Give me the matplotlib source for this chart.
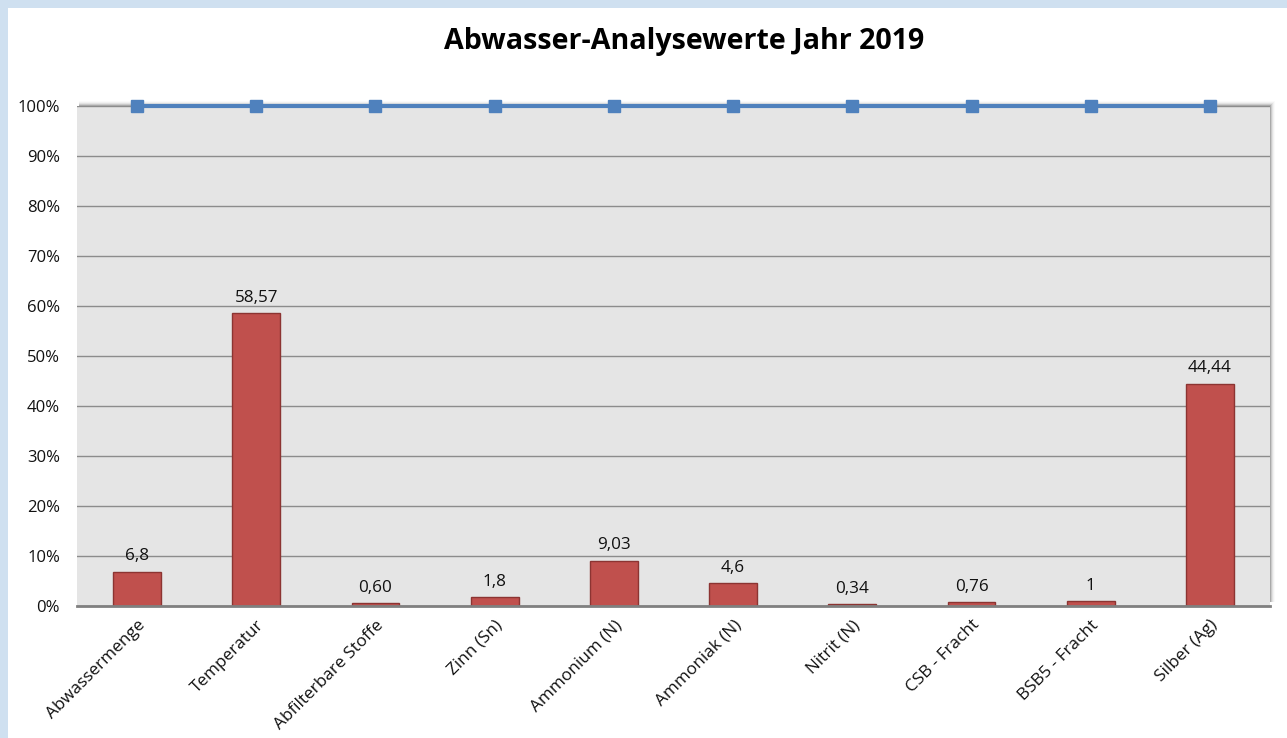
import matplotlib
matplotlib.use("Agg")
import matplotlib.pyplot as plt
from matplotlib.patches import Rectangle
from matplotlib.ticker import FuncFormatter

categories = ["Abwassermenge", "Temperatur", "Abfilterbare Stoffe", "Zinn (Sn)",
              "Ammonium (N)", "Ammoniak (N)", "Nitrit (N)", "CSB - Fracht",
              "BSB5 - Fracht", "Silber (Ag)"]
bar_values = [6.8, 58.57, 0.60, 1.8, 9.03, 4.6, 0.34, 0.76, 1.0, 44.44]
bar_labels = ["6,8", "58,57", "0,60", "1,8", "9,03", "4,6", "0,34", "0,76", "1", "44,44"]
line_values = [100] * 10
yticks = [0, 10, 20, 30, 40, 50, 60, 70, 80, 90, 100]

plt.rcParams['font.family'] = ['Open Sans', 'DejaVu Sans']

W, H = 1287, 738
fig = plt.figure(figsize=(W / 100, H / 100), dpi=100)
fig.patch.set_facecolor('white')

# light blue frame (top and left)
fig.patches.append(Rectangle((0, 1 - 8 / H), 1, 8 / H, transform=fig.transFigure,
                             facecolor='#cfe0f0', edgecolor='none', zorder=0))
fig.patches.append(Rectangle((0, 0), 8 / W, 1, transform=fig.transFigure,
                             facecolor='#cfe0f0', edgecolor='none', zorder=0))

left, right, top, bottom = 77.4, 1269.6, 106, 606

# soft shadow around plot area (top and right), drawn behind the axes
for i, a in enumerate([0.16, 0.10, 0.06, 0.035, 0.02]):
    d = i + 1
    fig.patches.append(Rectangle(((left + 2) / W, 1 - (bottom - 4) / H),
                                 (right - left - 2 + d) / W, (bottom - top - 4 + d) / H,
                                 transform=fig.transFigure, facecolor='black',
                                 edgecolor='none', alpha=a, zorder=0.5))

ax = fig.add_axes([left / W, 1 - bottom / H, (right - left) / W, (bottom - top) / H])
ax.set_zorder(2)
ax.set_facecolor('#e5e5e5')

x = list(range(len(categories)))
ax.bar(x, bar_values, width=0.40, color='#c0504d', edgecolor='#8c3432',
       linewidth=1.0, zorder=3)
ax.plot(x, line_values, color='#4f81bd', linewidth=3, marker='s', markersize=9,
        markerfacecolor='#4f81bd', markeredgecolor='#4f81bd', zorder=4, clip_on=False)

for xi, v, lab in zip(x, bar_values, bar_labels):
    ax.text(xi, v + 1.5, lab, ha='center', va='bottom', fontsize=12.3, color='#111111', zorder=5)

ax.set_xlim(-0.5, len(categories) - 0.5)
ax.set_ylim(0, 100)
ax.set_yticks(yticks)
ax.yaxis.set_major_formatter(FuncFormatter(lambda v, p: f"{int(v)}%"))
ax.grid(axis='y', color='#8c8c8c', linewidth=1.0, zorder=1)
ax.set_axisbelow(True)
for s in ['top', 'right', 'left']:
    ax.spines[s].set_visible(False)
ax.spines['bottom'].set_color('#808080')
ax.spines['bottom'].set_linewidth(2)
ax.spines['bottom'].set_zorder(6)
ax.tick_params(axis='y', length=0, labelsize=12, pad=12.5, colors='#111111')
ax.tick_params(axis='x', length=0, labelsize=12.3, pad=8, colors='#111111')
ax.set_xticks(x)
ax.set_xticklabels(categories, rotation=45, ha='right', rotation_mode='anchor')

fig.text(684 / W, 1 - 42 / H, "Abwasser-Analysewerte Jahr 2019", ha='center', va='center',
         fontsize=20.6, fontweight='bold', color='black')

fig.savefig("out.png", dpi=100)
